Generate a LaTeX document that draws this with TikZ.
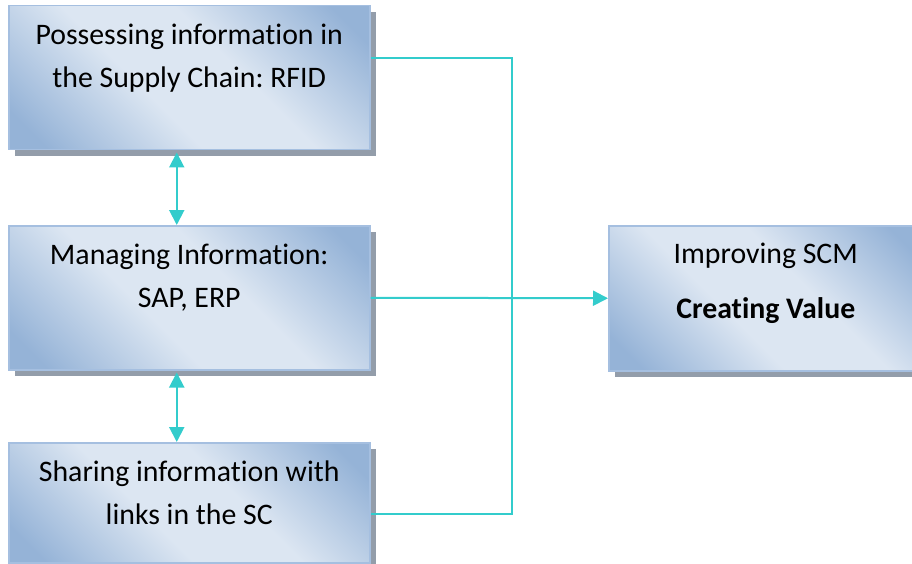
\documentclass[tikz,border=0pt]{standalone}
\usepackage{fontspec}
\setmainfont{Carlito}[RawFeature={-liga;-clig;-dlig;-calt}]
\frenchspacing
\usetikzlibrary{arrows.meta,shadows,calc}
\definecolor{boxdark}{HTML}{95B3D7}
\definecolor{boxlight}{HTML}{DCE6F2}
\definecolor{boxedge}{HTML}{A5BFE0}
\definecolor{shadowgray}{HTML}{939DAA}
\definecolor{linkcol}{HTML}{33CCCC}
% diagonal fill: dark corners, broad light band across the middle
\pgfdeclareverticalshading{boxshade}{100bp}{%
  color(0bp)=(boxdark); color(20bp)=(boxdark); color(42bp)=(boxlight);
  color(58bp)=(boxlight); color(80bp)=(boxdark); color(100bp)=(boxdark)}
\begin{document}
\begin{tikzpicture}[x=1pt,y=-1pt,
  box/.style={anchor=north west, inner sep=0pt, draw=boxedge, line width=1.5pt,
    shade, shading=boxshade, shading angle=-45,
    drop shadow={shadow xshift=6pt, shadow yshift=-6pt, fill=shadowgray, opacity=1}},
  boxtext/.style={anchor=base, inner sep=0pt, font=\fontsize{29.8}{43}\selectfont},
  conn/.style={draw=linkcol, line width=2pt},
  >={Triangle[length=15pt,width=15pt]},
]
\useasboundingbox (0,0) rectangle (912,564);

% boxes
\node[box, minimum width=361pt, minimum height=144pt] (b1) at (8,5) {};
\node[box, minimum width=361pt, minimum height=144pt] (b2) at (8,225) {};
\node[box, minimum width=361pt, minimum height=120pt] (b3) at (8,442) {};
\node[box, minimum width=314pt, minimum height=145pt] (b4) at (608,225) {};

% box texts
\node[boxtext] (t1) at ($(b1.north)+(0,40)$)
  {\parbox[t]{355pt}{\centering Possessing information in\\the Supply Chain: RFID}};
\node[boxtext] (t2) at ($(b2.north)+(0,39)$)
  {\parbox[t]{355pt}{\centering Managing Information:\\SAP, ERP}};
\node[boxtext] (t3) at ($(b3.north)+(0,39)$)
  {\parbox[t]{355pt}{\centering Sharing information with\\links in the SC}};
\node[boxtext] (t4) at ($(b4.north)+(0,38)$)
  {\parbox[t]{300pt}{\centering Improving SCM\\[12pt]\textbf{Creating Value}}};

% connectors
\coordinate (j) at (512,300);
\draw[conn] ($(b1.north east)+(0,53)$) -| (j) |- ($(b3.north east)+(0,72)$);
\draw[conn,->] (b2.east) -- (b4.west);
\draw[conn,<->,shorten <=2pt] ([xshift=-12.5pt]b1.south) -- ([xshift=-12.5pt]b2.north);
\draw[conn,<->,shorten <=2pt] ([xshift=-12.5pt]b2.south) -- ([xshift=-12.5pt]b3.north);
\end{tikzpicture}
\end{document}
